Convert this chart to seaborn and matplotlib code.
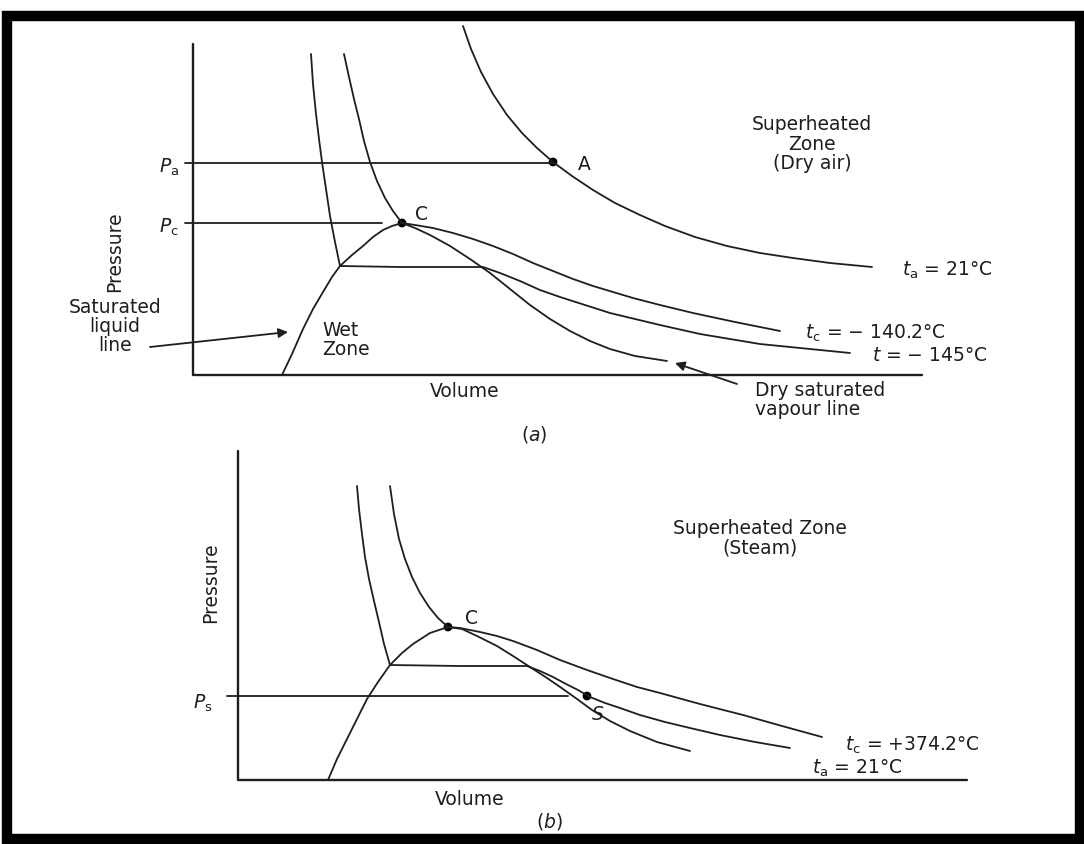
import pandas as pd
import matplotlib.pyplot as plt
import seaborn as sns
from matplotlib.patches import Rectangle

# picture coordinates (pixels, y down)

# --- panel (a): air ---
a_axes = [(193, 45), (193, 376), (922, 376)]
a_pa_line = [(185, 164), (553, 164)]
a_pc_line = [(185, 224), (382, 224)]
a_iso_21 = [(463, 27), (471, 50), (481, 73), (493, 95), (507, 116), (522, 134),
            (537, 149), (553, 163), (572, 177), (593, 191), (615, 204), (640, 216),
            (665, 227), (695, 238), (727, 247), (760, 254), (793, 259), (830, 264),
            (872, 268)]
a_iso_crit = [(344, 55), (349, 78), (354, 100), (359, 120), (364, 142), (370, 163),
              (377, 182), (385, 199), (393, 212), (402, 224), (415, 226), (433, 229),
              (453, 234), (473, 240), (493, 247), (513, 255), (533, 264), (553, 272),
              (573, 280), (593, 287), (613, 293), (633, 299), (660, 306), (693, 314),
              (735, 323), (780, 332)]
a_iso_145 = [(311, 55), (313, 85), (316, 115), (319, 140), (322, 163), (326, 190),
             (330, 217), (335, 243), (340, 267), (400, 268), (483, 268), (500, 274),
             (520, 282), (540, 291), (560, 298), (585, 306), (610, 314), (635, 320),
             (660, 326), (700, 335), (760, 345), (810, 350), (850, 354)]
a_dome = [(282, 376), (292, 355), (303, 330), (313, 310), (323, 293), (332, 278),
          (340, 267), (352, 256), (363, 247), (373, 238), (383, 231), (392, 227),
          (402, 224), (415, 229), (430, 236), (450, 247), (470, 260), (490, 274),
          (510, 290), (530, 306), (550, 320), (570, 332), (590, 342), (610, 350),
          (635, 357), (667, 362)]
a_points = [(553, 163), (402, 224)]

# --- panel (b): steam ---
b_axes = [(238, 452), (238, 781), (967, 781)]
b_ps_line = [(227, 697), (568, 697)]
b_iso_21 = [(357, 487), (359, 510), (362, 535), (365, 558), (369, 580), (374, 602),
            (379, 623), (384, 645), (390, 666), (460, 667), (527, 667), (540, 672),
            (553, 678), (566, 685), (578, 691), (590, 698), (605, 704), (620, 709),
            (640, 716), (665, 723), (690, 729), (720, 736), (755, 743), (790, 749)]
b_iso_crit = [(390, 487), (394, 515), (399, 540), (405, 560), (412, 578), (420, 594),
              (429, 608), (438, 619), (448, 628), (460, 629), (480, 633), (497, 637),
              (513, 642), (537, 651), (560, 661), (587, 671), (613, 680), (637, 688),
              (660, 694), (700, 705), (743, 716), (782, 727), (822, 738)]
b_dome = [(328, 781), (337, 760), (347, 740), (357, 720), (367, 700), (378, 683),
          (390, 666), (402, 654), (413, 645), (430, 634), (448, 628), (462, 630),
          (477, 637), (497, 647), (513, 657), (530, 668), (547, 679), (563, 690),
          (577, 700), (592, 711), (610, 722), (630, 732), (657, 743), (690, 752)]
b_points = [(448, 628), (587, 697)]

curves = {
    'a_axes': a_axes, 'a_pa': a_pa_line, 'a_pc': a_pc_line,
    'a_iso_21': a_iso_21, 'a_iso_crit': a_iso_crit, 'a_iso_145': a_iso_145,
    'a_dome': a_dome,
    'b_axes': b_axes, 'b_ps': b_ps_line,
    'b_iso_21': b_iso_21, 'b_iso_crit': b_iso_crit, 'b_dome': b_dome,
}

rows = []
for name, pts in curves.items():
    for x, y in pts:
        rows.append({'curve': name, 'x': x, 'y': y})
df = pd.DataFrame(rows)
pts = pd.DataFrame(a_points + b_points, columns=['x', 'y'])

sns.set_theme(style='white')
plt.rcParams['font.family'] = ['DejaVu Sans']
plt.rcParams['mathtext.fontset'] = 'dejavusans'

ink = '#1e1e1e'
fig = plt.figure(figsize=(10.84, 8.45), dpi=100)
ax = fig.add_axes([0, 0, 1, 1])

is_axis = df['curve'].str.contains('axes')
sns.lineplot(data=df[~is_axis], x='x', y='y', units='curve', estimator=None,
             sort=False, color=ink, lw=1.3, ax=ax)
sns.lineplot(data=df[is_axis], x='x', y='y', units='curve', estimator=None,
             sort=False, color=ink, lw=1.7, ax=ax)
sns.scatterplot(data=pts, x='x', y='y', color='black', s=40, edgecolor='none', ax=ax)

# frame
ax.add_patch(Rectangle((7, 16.5), 1073, 823.5, fill=False, lw=7.5, ec='black',
                       joinstyle='miter'))

fs = 13.5
kw = dict(color=ink, fontsize=fs)

# panel (a) labels
ax.text(179, 167, r'$P_{\rm a}$', ha='right', va='center', **kw)
ax.text(179, 227, r'$P_{\rm c}$', ha='right', va='center', **kw)
ax.text(584, 164, 'A', ha='center', va='center', **kw)
ax.text(422, 214, 'C', ha='center', va='center', **kw)
ax.text(812, 144, 'Superheated\nZone\n(Dry air)', ha='center', va='center',
        linespacing=1.05, **kw)
ax.text(902, 270, r'$t_{\rm a}$ = 21°C', ha='left', va='center', **kw)
ax.text(805, 333, r'$t_{\rm c}$ = − 140.2°C', ha='left', va='center', **kw)
ax.text(872, 356, r'$t$ = − 145°C', ha='left', va='center', **kw)
ax.text(755, 400, 'Dry saturated\nvapour line', ha='left', va='center',
        linespacing=1.0, **kw)
ax.text(115, 327, 'Saturated\nliquid\nline', ha='center', va='center',
        linespacing=1.0, **kw)
ax.text(322, 340, 'Wet\nZone', ha='left', va='center', linespacing=1.0, **kw)
ax.text(115, 252, 'Pressure', rotation=90, ha='center', va='center', **kw)
ax.text(465, 392, 'Volume', ha='center', va='center', **kw)
ax.text(534, 435, r'($a$)', ha='center', va='center', **kw)

arrow = dict(arrowstyle='-|>', color=ink, lw=1.3, mutation_scale=14,
             shrinkA=0, shrinkB=0)
ax.annotate('', xy=(288, 333), xytext=(150, 348), arrowprops=arrow)
ax.annotate('', xy=(675, 364), xytext=(737, 385), arrowprops=arrow)

# panel (b) labels
ax.text(213, 703, r'$P_{\rm s}$', ha='right', va='center', **kw)
ax.text(471, 619, 'C', ha='center', va='center', **kw)
ax.text(598, 715, 'S', ha='center', va='center', style='italic', **kw)
ax.text(760, 538, 'Superheated Zone\n(Steam)', ha='center', va='center',
        linespacing=1.05, **kw)
ax.text(845, 745, r'$t_{\rm c}$ = +374.2°C', ha='left', va='center', **kw)
ax.text(812, 768, r'$t_{\rm a}$ = 21°C', ha='left', va='center', **kw)
ax.text(211, 583, 'Pressure', rotation=90, ha='center', va='center', **kw)
ax.text(470, 800, 'Volume', ha='center', va='center', **kw)
ax.text(549, 822, r'($b$)', ha='center', va='center', **kw)

ax.set_xlim(0, 1084)
ax.set_ylim(845, 0)
ax.axis('off')

fig.savefig('out.png', dpi=100)
